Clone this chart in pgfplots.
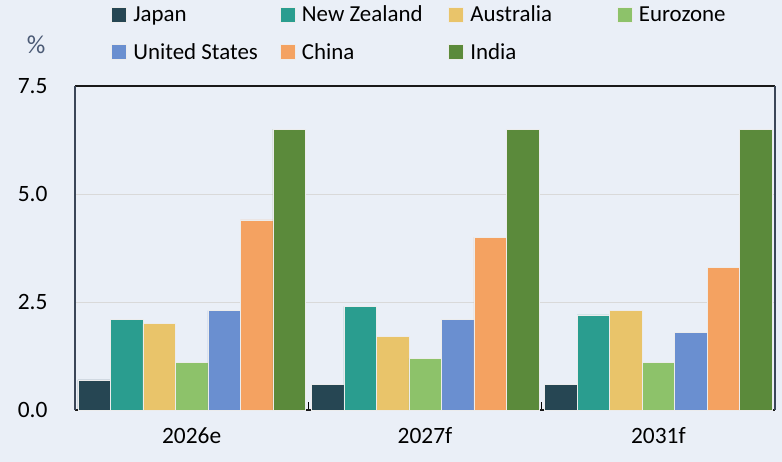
\documentclass[border=0pt]{standalone}
\usepackage{fontspec}
\setmainfont{Carlito}
\usepackage{pgfplots}
\pgfplotsset{compat=1.18}
\definecolor{bgc}{HTML}{EAEFF7}
\definecolor{cJap}{HTML}{264653}
\definecolor{cNZ}{HTML}{2A9D8F}
\definecolor{cAus}{HTML}{E9C46A}
\definecolor{cEur}{HTML}{8DC26A}
\definecolor{cUS}{HTML}{6A8FD0}
\definecolor{cChi}{HTML}{F4A261}
\definecolor{cInd}{HTML}{5B8A3B}
\definecolor{cPct}{HTML}{4B5A75}
\definecolor{cSlate}{HTML}{3B4658}
\newcommand{\lbox}[1]{\makebox[144bp][l]{#1}}
\begin{document}
\begin{tikzpicture}
\fill[bgc] (0,0) rectangle (782bp,462bp);
\useasboundingbox (0,0) rectangle (782bp,462bp);
\begin{axis}[
  at={(75bp,52bp)}, anchor=south west,
  scale only axis, width=700bp, height=324bp,
  clip=false,
  ybar=0pt, bar width=32.5bp,
  xmin=-0.5, xmax=2.5, ymin=0, ymax=7.5,
  xtick={0,1,2}, xticklabels={2026e,2027f,2031f},
  minor xtick={0.5,1.5},
  ytick={0,2.5,5,7.5},
  yticklabel style={/pgf/number format/fixed, /pgf/number format/fixed zerofill,
    /pgf/number format/precision=1, xshift=-24bp},
  /pgf/number format/assume math mode=true,
  ymajorgrids, grid style={draw=gray!30, line width=1pt},
  major tick length=0pt, minor tick length=8bp,
  tick align=inside, xtick pos=bottom, ytick pos=left,
  minor tick style={black, line width=0.8pt},
  separate axis lines,
  x axis line style={draw=black!90, line width=1.1pt},
  y axis line style={draw=cSlate, line width=1.1pt},
  tick label style={font=\fontsize{23.5}{27}\selectfont, text=black},
  xticklabel style={yshift=-14bp},
  every axis plot/.append style={draw=white!85!gray, line width=0.5pt},
  legend style={at={(axis description cs:0.052,1.255)}, anchor=north west,
    draw=none, fill=none, inner sep=0pt, outer sep=0pt,
    nodes={inner sep=2.5bp}, font=\fontsize{23}{27}\selectfont,
    row sep=15bp},
  legend columns=4, legend cell align=left,
  legend image code/.code={\fill[#1] (0bp,-7.5bp) rectangle (15bp,7.5bp); \path (19bp,0bp);},
]
\addplot[fill=cJap] coordinates {(0,0.7) (1,0.6) (2,0.6)};
\addlegendentry{\lbox{Japan}}
\addplot[fill=cNZ] coordinates {(0,2.1) (1,2.4) (2,2.2)};
\addlegendentry{\lbox{New Zealand}}
\addplot[fill=cAus] coordinates {(0,2.0) (1,1.7) (2,2.3)};
\addlegendentry{\lbox{Australia}}
\addplot[fill=cEur] coordinates {(0,1.1) (1,1.2) (2,1.1)};
\addlegendentry{\lbox{Eurozone}}
\addplot[fill=cUS] coordinates {(0,2.3) (1,2.1) (2,1.8)};
\addlegendentry{\lbox{United States}}
\addplot[fill=cChi] coordinates {(0,4.4) (1,4.0) (2,3.3)};
\addlegendentry{\lbox{China}}
\addplot[fill=cInd] coordinates {(0,6.5) (1,6.5) (2,6.5)};
\addlegendentry{\lbox{India}}
\node[text=cPct, font=\fontsize{26}{30}\selectfont] at (axis description cs:-0.0557,1.127) {\%};
\end{axis}
\end{tikzpicture}
\end{document}
